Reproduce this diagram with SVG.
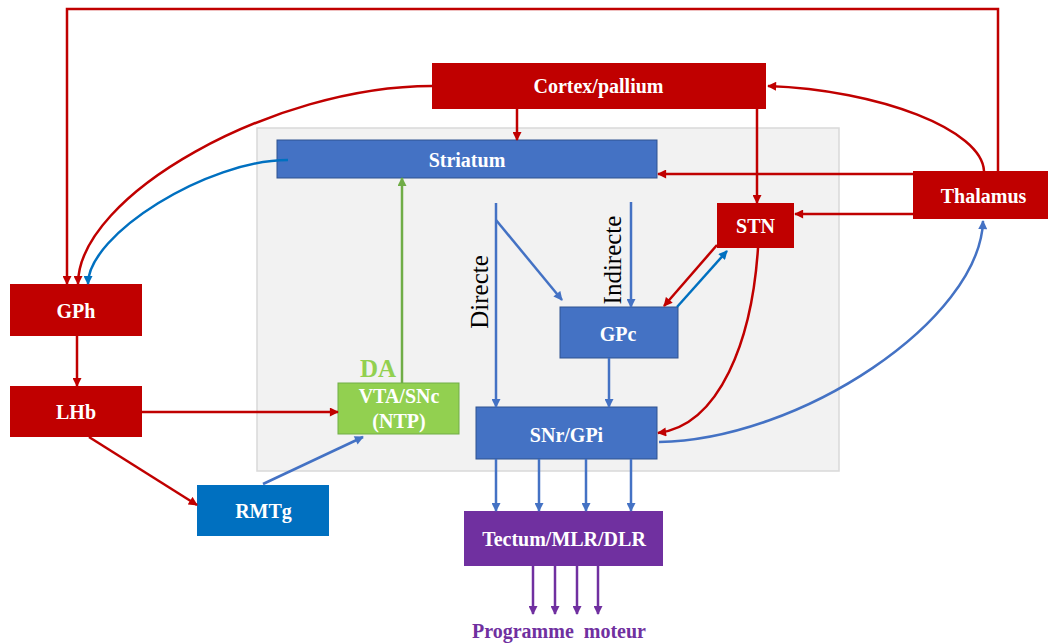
<svg xmlns="http://www.w3.org/2000/svg" width="1048" height="644" viewBox="0 0 1048 644">
<style>
.lbl{font-family:"Liberation Serif","Times New Roman",serif;font-weight:bold;font-size:20px;fill:#ffffff;text-anchor:middle}
.red{fill:#c00000}
.blue{fill:#4472c4}
.rl{stroke:#c00000;stroke-width:2.5;fill:none;marker-end:url(#ar)}
.bl{stroke:#4472c4;stroke-width:2.5;fill:none;marker-end:url(#ab)}
.bl2{stroke:#0070c0;stroke-width:2.5;fill:none;marker-end:url(#ab2)}
.gl{stroke:#70ad47;stroke-width:2.5;fill:none;marker-end:url(#ag)}
.pl{stroke:#7030a0;stroke-width:2.5;fill:none;marker-end:url(#ap)}
.path{font-family:"Liberation Serif","Times New Roman",serif;font-size:25px;fill:#000000;text-anchor:middle}
</style>
<defs>
<marker id="ar" viewBox="0 0 10 10" refX="9" refY="5" markerWidth="10" markerHeight="9" markerUnits="userSpaceOnUse" orient="auto"><path d="M0,0 L10,5 L0,10 z" fill="#c00000"/></marker>
<marker id="ab" viewBox="0 0 10 10" refX="9" refY="5" markerWidth="10" markerHeight="9" markerUnits="userSpaceOnUse" orient="auto"><path d="M0,0 L10,5 L0,10 z" fill="#4472c4"/></marker>
<marker id="ab2" viewBox="0 0 10 10" refX="9" refY="5" markerWidth="10" markerHeight="9" markerUnits="userSpaceOnUse" orient="auto"><path d="M0,0 L10,5 L0,10 z" fill="#0070c0"/></marker>
<marker id="ag" viewBox="0 0 10 10" refX="9" refY="5" markerWidth="10" markerHeight="9" markerUnits="userSpaceOnUse" orient="auto"><path d="M0,0 L10,5 L0,10 z" fill="#70ad47"/></marker>
<marker id="ap" viewBox="0 0 10 10" refX="9" refY="5" markerWidth="10" markerHeight="9" markerUnits="userSpaceOnUse" orient="auto"><path d="M0,0 L10,5 L0,10 z" fill="#7030a0"/></marker>
</defs>
<rect x="0" y="0" width="1048" height="644" fill="#ffffff"/>
<rect id="basal-ganglia" x="257" y="128" width="582" height="343" fill="#f2f2f2" stroke="#d9d9d9" stroke-width="1.5"/>

<g id="cortex"><rect class="red" x="432" y="63" width="334" height="46"/><text class="lbl" x="598.5" y="93">Cortex/pallium</text></g>
<g id="striatum"><rect class="blue" x="277" y="140" width="380" height="38" stroke="#2f528f" stroke-width="1"/><text class="lbl" x="467" y="167">Striatum</text></g>
<g id="thalamus"><rect class="red" x="913" y="171" width="140" height="48"/><text class="lbl" x="983.5" y="203">Thalamus</text></g>
<g id="stn"><rect class="red" x="717" y="203" width="77" height="45"/><text class="lbl" x="755.5" y="233">STN</text></g>
<g id="gph"><rect class="red" x="10" y="284" width="132" height="52"/><text class="lbl" x="76" y="318">GPh</text></g>
<g id="lhb"><rect class="red" x="10" y="386" width="132" height="51"/><text class="lbl" x="76" y="419">LHb</text></g>
<g id="vta"><rect x="338" y="383" width="121" height="51" fill="#92d050" stroke="#70ad47" stroke-width="1"/><text class="lbl" x="399" y="403">VTA/SNc</text><text class="lbl" x="399" y="428">(NTP)</text></g>
<g id="rmtg"><rect x="197" y="485" width="132" height="51" fill="#0070c0"/><text class="lbl" x="263.5" y="518">RMTg</text></g>
<g id="gpc"><rect class="blue" x="560" y="307" width="118" height="51" stroke="#2f528f" stroke-width="1"/><text class="lbl" x="618" y="341">GPc</text></g>
<g id="snr"><rect class="blue" x="476" y="407" width="181" height="52" stroke="#2f528f" stroke-width="1"/><text class="lbl" x="566.5" y="442">SNr/GPi</text></g>
<g id="tectum"><rect x="464" y="511" width="199" height="55" fill="#7030a0"/><text class="lbl" x="564" y="546">Tectum/MLR/DLR</text></g>

<g id="labels">
<text x="378" y="377" font-family="'Liberation Serif','Times New Roman',serif" font-weight="bold" font-size="25" fill="#92d050" text-anchor="middle">DA</text>
<text class="path" transform="translate(488,292) rotate(-90)">Directe</text>
<text class="path" transform="translate(621,260) rotate(-90)">Indirecte</text>
<text x="559" y="638" font-family="'Liberation Serif','Times New Roman',serif" font-weight="bold" font-size="20" fill="#7030a0" text-anchor="middle" word-spacing="5">Programme moteur</text>
</g>

<g id="connectors">
<path class="rl" d="M998,171 V9 H67 V284"/>
<path class="rl" d="M432,86 C273,86 78,195 78,284"/>
<path class="bl2" d="M288,160 C208,160 88,234 88,284"/>
<path class="rl" d="M517,109 V140"/>
<path class="rl" d="M757,109 V203"/>
<path class="rl" d="M984,171 C982,130 880,90 768,86"/>
<path class="rl" d="M913,174 H658"/>
<path class="rl" d="M913,214 H795"/>
<path class="rl" d="M717,245 L664,306"/>
<path class="bl2" d="M677,307 L727,251"/>
<path class="rl" d="M758,248 C752,340 720,425 658,433"/>
<path class="bl" d="M659,442 C800,440 980,320 983,221"/>
<path class="bl" d="M496,203 V407"/>
<path class="bl" d="M496,220 L562,300"/>
<path class="bl" d="M631,202 V307"/>
<path class="gl" d="M402,383 V178"/>
<path class="rl" d="M77,336 V386"/>
<path class="rl" d="M142,412 H338"/>
<path class="rl" d="M89,437 L197,505"/>
<path class="bl" d="M263,484 L363,437"/>
<path class="bl" d="M609,358 V407"/>
<path class="bl" d="M496,459 V511"/>
<path class="bl" d="M539,459 V511"/>
<path class="bl" d="M586,459 V511"/>
<path class="bl" d="M631,459 V511"/>
<path class="pl" d="M533,566 V614"/>
<path class="pl" d="M555,566 V614"/>
<path class="pl" d="M577,566 V614"/>
<path class="pl" d="M598,566 V614"/>
</g>
</svg>
